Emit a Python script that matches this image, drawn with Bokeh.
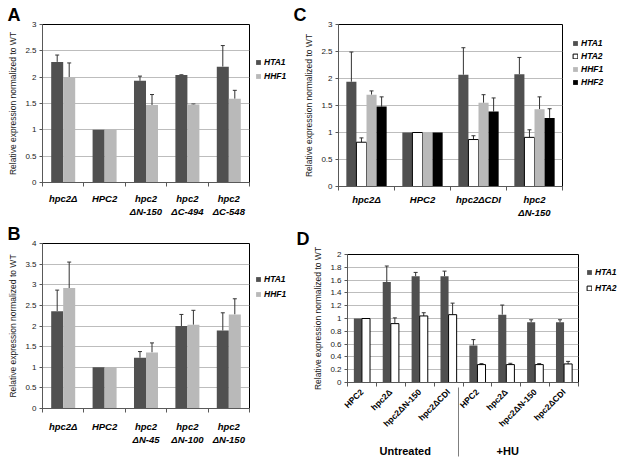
import math
from bokeh.plotting import figure
from bokeh.models import (ColumnDataSource, FixedTicker, Whisker, TeeHead, Legend,
                          LegendItem, LinearAxis, Range1d)
from bokeh.core.properties import value
from bokeh.layouts import row, column
from bokeh.embed import file_html
from bokeh.resources import INLINE

FONT = "Liberation Sans"
YLABEL = "Relative expression normalized to WT"

# ---------------- data ----------------
# Panel A
a_labels = ["hpc2\u0394", "HPC2", "hpc2\n\u0394N-150", "hpc2\n\u0394C-494", "hpc2\n\u0394C-548"]
a_hta1 = [2.29, 1.00, 1.93, 2.04, 2.20]
a_hta1_err = [0.13, 0.0, 0.09, 0.005, 0.40]
a_hhf1 = [2.00, 1.00, 1.47, 1.48, 1.59]
a_hhf1_err = [0.27, 0.0, 0.20, 0.01, 0.16]
a_yticks = [0, 0.5, 1, 1.5, 2, 2.5, 3]
a_ytick_labels = ["0", "0.5", "1", "1.5", "2", "2.5", "3"]

# Panel B
b_labels = ["hpc2\u0394", "HPC2", "hpc2\n\u0394N-45", "hpc2\n\u0394N-100", "hpc2\n\u0394N-150"]
b_hta1 = [2.36, 1.00, 1.23, 2.00, 1.89]
b_hta1_err = [0.51, 0.0, 0.15, 0.28, 0.43]
b_hhf1 = [2.92, 1.00, 1.36, 2.03, 2.28]
b_hhf1_err = [0.63, 0.0, 0.23, 0.35, 0.38]
b_yticks = [0, 0.5, 1, 1.5, 2, 2.5, 3, 3.5, 4]
b_ytick_labels = ["0", "0.5", "1", "1.5", "2", "2.5", "3", "3.5", "4"]

# Panel C
c_labels = ["hpc2\u0394", "HPC2", "hpc2\u0394CDI", "hpc2\n\u0394N-150"]
c_hta1 = [1.94, 1.00, 2.07, 2.08]
c_hta1_err = [0.55, 0.0, 0.50, 0.31]
c_hta2 = [0.82, 1.00, 0.87, 0.91]
c_hta2_err = [0.08, 0.0, 0.07, 0.14]
c_hhf1 = [1.70, 1.00, 1.55, 1.43]
c_hhf1_err = [0.07, 0.0, 0.15, 0.23]
c_hhf2 = [1.48, 1.00, 1.39, 1.27]
c_hhf2_err = [0.18, 0.0, 0.25, 0.17]
c_yticks = [0, 0.5, 1, 1.5, 2, 2.5, 3]
c_ytick_labels = ["0", "0.5", "1", "1.5", "2", "2.5", "3"]

# Panel D
d_labels = ["HPC2", "hpc2\u0394", "hpc2\u0394N-150", "hpc2\u0394CDI",
            "HPC2", "hpc2\u0394", "hpc2\u0394N-150", "hpc2\u0394CDI"]
d_hta1 = [1.00, 1.57, 1.66, 1.66, 0.58, 1.06, 0.94, 0.94]
d_hta1_err = [0.0, 0.25, 0.06, 0.08, 0.09, 0.15, 0.04, 0.04]
d_hta2 = [1.00, 0.92, 1.04, 1.06, 0.28, 0.28, 0.28, 0.29]
d_hta2_err = [0.0, 0.09, 0.05, 0.18, 0.015, 0.02, 0.015, 0.04]
d_groups = ["Untreated", "+HU"]
d_yticks = [0, 0.2, 0.4, 0.6, 0.8, 1, 1.2, 1.4, 1.6, 1.8, 2]
d_ytick_labels = ["0", "0.2", "0.4", "0.6", "0.8", "1", "1.2", "1.4", "1.6", "1.8", "2"]

C_HTA1 = "#505050"
C_HHF1 = "#b9b9b9"
C_HTA2 = "#ffffff"
C_HHF2 = "#000000"
AX = "#595959"


def no_align(p):
    # keep each panel's frame independent of its neighbours in the row
    if "frame_align" in type(p).properties():
        p.frame_align = False


def base_panel(labels, ymax, yticks, ytick_labels, width, height, left, right, top, bottom):
    n = len(labels)
    p = figure(width=width, height=height, output_backend="svg", toolbar_location=None,
               x_range=Range1d(0, n), y_range=Range1d(0, ymax),
               min_border_left=left, min_border_right=right,
               min_border_top=top, min_border_bottom=bottom)
    no_align(p)
    p.background_fill_color = "white"
    p.border_fill_color = "white"
    p.outline_line_color = "#000000"
    p.outline_line_width = 1
    p.xgrid.visible = False
    yt = FixedTicker(ticks=yticks, minor_ticks=[])
    p.yaxis.ticker = yt
    p.ygrid.ticker = yt
    p.ygrid.grid_line_color = "#bdbdbd"
    p.ygrid.grid_line_width = 1
    p.yaxis.major_label_overrides = dict(zip(yticks, ytick_labels))
    p.yaxis.major_tick_in = 0
    p.yaxis.major_tick_out = 3
    p.yaxis.minor_tick_line_color = None
    p.yaxis.axis_line_color = AX
    p.yaxis.major_tick_line_color = AX
    p.yaxis.major_label_text_font = FONT
    p.yaxis.major_label_text_font_size = "8px"
    p.yaxis.major_label_text_color = "#1a1a1a"
    p.yaxis.major_label_standoff = 3
    p.yaxis.axis_label = YLABEL
    p.yaxis.axis_label_text_font = FONT
    p.yaxis.axis_label_text_font_size = "8.5px"
    p.yaxis.axis_label_text_font_style = "normal"
    p.yaxis.axis_label_text_color = "#1a1a1a"
    p.yaxis.axis_label_standoff = 4
    centers = [i + 0.5 for i in range(n)]
    bounds = list(range(n + 1))
    p.xaxis.ticker = FixedTicker(ticks=centers, minor_ticks=bounds)
    p.xaxis.major_label_overrides = dict(zip(centers, labels))
    p.xaxis.major_tick_in = 0
    p.xaxis.major_tick_out = 0
    p.xaxis.minor_tick_in = 0
    p.xaxis.minor_tick_out = 4
    p.xaxis.minor_tick_line_color = AX
    p.xaxis.axis_line_color = AX
    p.xaxis.major_label_text_font = FONT
    p.xaxis.major_label_text_color = "#000000"
    p.xaxis.major_label_text_font_size = "9.5px"
    p.xaxis.major_label_text_font_style = "bold italic"
    return p, centers


def add_bars(p, centers, series, bw):
    k = len(series)
    for i, (vals, errs, fill, line) in enumerate(series):
        off = (i - (k - 1) / 2.0) * bw
        xs = [c + off for c in centers]
        src = ColumnDataSource(dict(x=xs, top=vals))
        p.vbar(x="x", top="top", bottom=0, width=bw, source=src,
               fill_color=fill, line_color=line, line_width=1)
        keep = [j for j, e in enumerate(errs) if e > 0]
        wsrc = ColumnDataSource(dict(base=[xs[j] for j in keep],
                                     lower=[vals[j] for j in keep],
                                     upper=[vals[j] + errs[j] for j in keep]))
        p.add_layout(Whisker(source=wsrc, base="base", lower="lower", upper="upper",
                             dimension="height", line_color="#333333", line_width=1,
                             upper_head=TeeHead(size=4, line_color="#333333", line_width=1),
                             lower_head=None))


def legend_fig(width, height, names, styles, lx, ly, pitch):
    """A small axis-less figure that only holds the legend of a panel."""
    f = figure(width=width, height=height, output_backend="svg", toolbar_location=None,
               x_range=Range1d(0, 1), y_range=Range1d(0, 1),
               x_axis_location=None, y_axis_location=None, min_border=0)
    no_align(f)
    f.outline_line_color = None
    f.background_fill_color = "white"
    f.border_fill_color = "white"
    f.grid.visible = False
    items = []
    for nm, (fill, line) in zip(names, styles):
        # one sample far outside the visible area so the legend has a glyph to draw
        r = f.vbar(x=[-50], top=[-40], bottom=-50, width=0.1,
                   fill_color=fill, line_color=line, line_width=1)
        items.append(LegendItem(label=value(nm), renderers=[r]))
    lg = Legend(items=items, location=(lx, ly), orientation="vertical",
                glyph_width=6, glyph_height=6, label_height=pitch,
                spacing=0, padding=0, margin=0, label_standoff=3,
                label_text_font=FONT, label_text_font_size="8.5px",
                label_text_font_style="bold italic", label_text_color="#000000",
                background_fill_alpha=0, border_line_alpha=0)
    f.add_layout(lg)
    return f


def set_letter(p, text, offset, standoff):
    p.title.text = text
    p.title.align = "left"
    p.title.offset = offset
    p.title.standoff = standoff
    p.title.text_font = FONT
    p.title.text_font_size = "18px"
    p.title.text_font_style = "bold"
    p.title.text_color = "#000000"


ROW1, ROW2 = 220, 239

# ---------------- Panel A ----------------
pA, cA = base_panel(a_labels, 3, a_yticks, a_ytick_labels, 251, ROW1, 42, 2, 24, 38)
pA.xaxis.major_label_standoff = 6
add_bars(pA, cA, [(a_hta1, a_hta1_err, C_HTA1, None),
                  (a_hhf1, a_hhf1_err, C_HHF1, None)], 0.29)
set_letter(pA, "A", -35, 0)
lA = legend_fig(41, ROW1, ["HTA1", "HHF1"], [(C_HTA1, None), (C_HHF1, None)], 4, 137, 14)

# ---------------- Panel C ----------------
pC, cC = base_panel(c_labels, 3, c_yticks, c_ytick_labels, 272, ROW1, 46, 2, 24, 28)
pC.xaxis.major_label_standoff = 3
add_bars(pC, cC, [(c_hta1, c_hta1_err, C_HTA1, None),
                  (c_hta2, c_hta2_err, C_HTA2, "#000000"),
                  (c_hhf1, c_hhf1_err, C_HHF1, None),
                  (c_hhf2, c_hhf2_err, C_HHF2, None)], 0.18)
set_letter(pC, "C", -45, 0)
lC = legend_fig(57, ROW1, ["HTA1", "HTA2", "HHF1", "HHF2"],
                [(C_HTA1, None), (C_HTA2, "#000000"), (C_HHF1, None), (C_HHF2, None)],
                8, 132, 13)

# ---------------- Panel B ----------------
pB, cB = base_panel(b_labels, 4, b_yticks, b_ytick_labels, 251, ROW2, 42, 2, 23, 51)
pB.xaxis.major_label_standoff = 8
add_bars(pB, cB, [(b_hta1, b_hta1_err, C_HTA1, None),
                  (b_hhf1, b_hhf1_err, C_HHF1, None)], 0.29)
set_letter(pB, "B", -35, 0)
lB = legend_fig(41, ROW2, ["HTA1", "HHF1"], [(C_HTA1, None), (C_HHF1, None)], 4, 158, 15)

# ---------------- Panel D ----------------
pD, cD = base_panel(d_labels, 2, d_yticks, d_ytick_labels, 288, ROW2, 55, 2, 34, 73)
pD.xaxis.major_label_orientation = math.pi / 4
pD.xaxis.major_label_text_font_style = "bold"
pD.xaxis.major_label_text_font_size = "8.5px"
pD.xaxis.major_label_standoff = 4
add_bars(pD, cD, [(d_hta1, d_hta1_err, C_HTA1, None),
                  (d_hta2, d_hta2_err, C_HTA2, "#000000")], 0.28)
set_letter(pD, "D", -51, 11)
lD = legend_fig(41, ROW2, ["HTA1", "HTA2"], [(C_HTA1, None), (C_HTA2, "#000000")], 6, 163, 16)

# second-level category axis (treatment groups) with separator tick
grp_pos = [2.0, 5.55]
ax2 = LinearAxis(ticker=FixedTicker(ticks=grp_pos, minor_ticks=[3.85]))
ax2.major_label_overrides = dict(zip(grp_pos, d_groups))
ax2.axis_line_color = None
ax2.major_tick_line_color = None
ax2.major_tick_in = 0
ax2.major_tick_out = 0
ax2.minor_tick_in = 48
ax2.minor_tick_out = 21
ax2.minor_tick_line_color = "#7f7f7f"
ax2.major_label_standoff = -12
ax2.major_label_text_font = FONT
ax2.major_label_text_font_size = "11px"
ax2.major_label_text_font_style = "bold"
ax2.major_label_text_color = "#000000"
pD.add_layout(ax2, "below")

layout = column(row(column(pA), column(lA), column(pC), column(lC)),
                row(column(pB), column(lB), column(pD), column(lD)))
open("out.html", "w").write(file_html(layout, INLINE))
